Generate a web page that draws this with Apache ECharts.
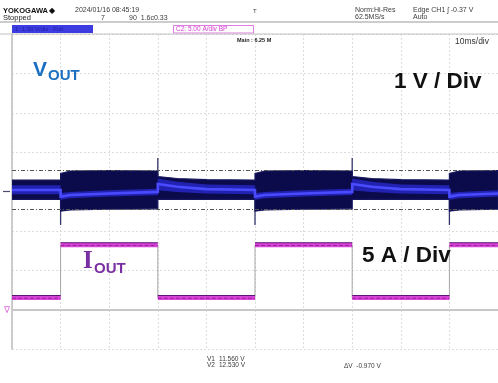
<!DOCTYPE html>
<html>
<head>
<meta charset="utf-8">
<script src="https://cdn.jsdelivr.net/npm/echarts@6/dist/echarts.min.js"></script>
<style>
  html, body { margin: 0; padding: 0; background: #ffffff; }
  #scope { width: 498px; height: 383px; }
</style>
</head>
<body>
<div id="scope"></div>
<script>
// ---- Acquisition data -------------------------------------------------
// Horizontal: 10 ms/div, 10 divisions
const timeRange = [0, 100];
const timePerDiv = 10;

// CH1 (VOUT), 1 V/div, 8 divisions
const voltRange = [8, 16];
const voltPerDiv = 1;

// CH2 (IOUT), 5 A/div, ground one division above the bottom
const ampRange = [-5, 35];
const ampPerDiv = 5;

// Load current: edge times (ms) and level held between edges (A)
const ioutTime  = [0, 10, 30, 50, 70, 90, 100];
const ioutLevel = [1.5, 8.2, 1.5, 8.2, 1.5, 8.2];

// Output voltage: noise envelope, bright core and mean trace (V)
const vTime    = [0, 10, 10, 12, 20, 30, 30, 34, 40, 50, 50, 52, 60, 70, 70, 74, 80, 90, 90, 92, 100];
const vTop     = [12.29, 12.29, 12.46, 12.52, 12.53, 12.52, 12.38, 12.33, 12.30, 12.29, 12.46, 12.52, 12.53, 12.52, 12.38, 12.33, 12.30, 12.29, 12.46, 12.52, 12.53];
const vBottom  = [11.80, 11.80, 11.50, 11.53, 11.55, 11.56, 11.80, 11.80, 11.80, 11.80, 11.50, 11.53, 11.55, 11.56, 11.80, 11.80, 11.80, 11.80, 11.50, 11.53, 11.55];
const vCoreTop = [12.16, 12.16, 11.96, 11.99, 12.03, 12.07, 12.33, 12.25, 12.18, 12.16, 11.96, 11.99, 12.03, 12.07, 12.33, 12.25, 12.18, 12.16, 11.96, 11.99, 12.03];
const vCoreBot = [11.93, 11.93, 11.79, 11.83, 11.87, 11.91, 12.03, 11.99, 11.95, 11.93, 11.79, 11.83, 11.87, 11.91, 12.03, 11.99, 11.95, 11.93, 11.79, 11.83, 11.87];
const vCentre  = [12.04, 12.04, 11.87, 11.91, 11.95, 11.99, 12.19, 12.12, 12.06, 12.04, 11.87, 11.91, 11.95, 11.99, 12.19, 12.12, 12.06, 12.04, 11.87, 11.91, 11.95];

// Transient peaks at each load edge (V)
const spikeTime  = [10, 30, 50, 70, 90];
const spikeValue = [11.15, 12.85, 11.15, 12.85, 11.15];

// Voltage cursors V1, V2 (V)
const cursorV = [11.56, 12.53];

// ---- Rendering --------------------------------------------------------
const SANS = '"Liberation Sans", Arial, "DejaVu Sans", sans-serif';
const SERIF = '"Liberation Serif", "DejaVu Serif", serif';
const chart = echarts.init(document.getElementById('scope'), null, { renderer: 'canvas' });

function renderVout(params, api) {
  const pt = (t, v) => api.coord([t, v]);
  const outer = [], core = [], centre = [];
  for (let i = 0; i < vTime.length; i++) {
    outer.push(pt(vTime[i], vTop[i]));
    core.push(pt(vTime[i], vCoreTop[i]));
    centre.push(pt(vTime[i], vCentre[i]));
  }
  for (let i = vTime.length - 1; i >= 0; i--) {
    outer.push(pt(vTime[i], vBottom[i]));
    core.push(pt(vTime[i], vCoreBot[i]));
  }
  const children = [];
  spikeTime.forEach((t, i) => {
    const a = pt(t, spikeValue[i]);
    const b = pt(t, vCentre[vTime.indexOf(t)]);
    children.push({ type: 'line', shape: { x1: a[0], y1: a[1], x2: b[0], y2: b[1] },
      style: { stroke: '#34346a', lineWidth: 1.3 } });
  });
  children.push(
    { type: 'polygon', shape: { points: outer },
      style: { fill: '#0b0b4c', stroke: '#16165e', lineWidth: 1.2 } },
    { type: 'polygon', shape: { points: core },
      style: { fill: '#2727c4', opacity: 0.85 } },
    { type: 'polyline', shape: { points: centre },
      style: { stroke: '#4a4aff', lineWidth: 2.6, fill: null } }
  );
  return { type: 'group', children };
}

function renderIout(params, api) {
  const children = [];
  for (let i = 1; i < ioutTime.length - 1; i++) {
    const a = api.coord([ioutTime[i], ioutLevel[i - 1]]);
    const b = api.coord([ioutTime[i], ioutLevel[i]]);
    children.push({ type: 'line', shape: { x1: a[0], y1: a[1], x2: b[0], y2: b[1] },
      style: { stroke: '#a6a6a6', lineWidth: 1 } });
  }
  for (let i = 0; i < ioutLevel.length; i++) {
    const a = api.coord([ioutTime[i], ioutLevel[i]]);
    const b = api.coord([ioutTime[i + 1], ioutLevel[i]]);
    children.push(
      { type: 'line', shape: { x1: a[0], y1: a[1], x2: b[0], y2: b[1] },
        style: { stroke: '#d844d8', lineWidth: 4.6 } },
      { type: 'line', shape: { x1: a[0], y1: a[1] - 2.3, x2: b[0], y2: b[1] - 2.3 },
        style: { stroke: '#5a1670', lineWidth: 1 } },
      { type: 'line', shape: { x1: a[0], y1: a[1] + 0.4, x2: b[0], y2: b[1] + 0.4 },
        style: { stroke: '#9c1f9c', lineWidth: 1, lineDash: [4, 2] } }
    );
  }
  return { type: 'group', children };
}

const dotted = { color: '#dddddd', width: 1, type: [2, 2] };

chart.setOption({
  backgroundColor: '#ffffff',
  animation: false,
  grid: { left: 12, right: -7, top: 34, bottom: 34 },
  xAxis: {
    type: 'value', min: timeRange[0], max: timeRange[1], interval: timePerDiv,
    axisLine: { show: true, lineStyle: { color: '#c8c8c8', width: 2 } },
    axisTick: { show: false }, axisLabel: { show: false },
    splitLine: { show: true, lineStyle: dotted }
  },
  yAxis: [
    {
      type: 'value', min: voltRange[0], max: voltRange[1], interval: voltPerDiv,
      axisLine: { show: true, lineStyle: { color: '#bcbcbc', width: 1.5 } },
      axisTick: { show: false }, axisLabel: { show: false },
      splitLine: { show: true, lineStyle: dotted }
    },
    {
      type: 'value', min: ampRange[0], max: ampRange[1], interval: ampPerDiv,
      show: false, splitLine: { show: false }
    }
  ],
  series: [
    {
      name: 'cursors', type: 'line', yAxisIndex: 0, data: [], z: 1,
      markLine: {
        silent: true, symbol: 'none', label: { show: false },
        lineStyle: { color: '#555555', width: 1, type: [4, 2, 1, 2] },
        data: cursorV.map(v => ({ yAxis: v }))
      }
    },
    {
      name: 'VOUT', type: 'custom', yAxisIndex: 0, z: 3, clip: true,
      data: [[vTime[0], vCentre[0]]], renderItem: renderVout
    },
    {
      name: 'IOUT', type: 'custom', yAxisIndex: 1, z: 4, clip: true,
      data: [[ioutTime[0], ioutLevel[0]]], renderItem: renderIout
    }
  ]
});

// Screen annotations
const ch1Y = chart.convertToPixel({ yAxisIndex: 0 }, 12);
const ch2Y = chart.convertToPixel({ yAxisIndex: 1 }, 0);
const hdr = '#3a3a3a';
const txt = (text, x, y, size, opts) => Object.assign({
  type: 'text', z: 10,
  style: Object.assign({ text, x, y, font: size + 'px ' + SANS, fill: hdr, verticalAlign: 'middle' }, opts || {})
});

chart.setOption({
  graphic: [
    txt('YOKOGAWA', 3, 11, 7.5, { font: 'bold 7.5px ' + SANS, fill: '#111' }),
    txt('\u25C6', 49, 11, 8, { fill: '#111' }),
    txt('2024/01/16 08:45:19', 75, 10.5, 7),
    txt('Stopped', 3, 18, 7.5, { fill: '#222' }),
    txt('7', 101, 18, 7),
    txt('90  1.6c0.33', 129, 18, 7),
    txt('T', 253, 11, 6),
    txt('Norm:Hi-Res', 355, 10.5, 7),
    txt('62.5MS/s', 355, 17.5, 7),
    txt('Edge CH1 \u0283 -0.37 V', 413, 10.5, 7),
    txt('Auto', 413, 17.5, 7),
    { type: 'line', z: 10, shape: { x1: 0, y1: 22, x2: 498, y2: 22 }, style: { stroke: '#9a9a9a', lineWidth: 1 } },
    { type: 'rect', z: 10, shape: { x: 12, y: 25, width: 81, height: 8 }, style: { fill: '#3c3ce0' } },
    txt('1: 1.00 V/div   Full', 15, 29, 6, { fill: '#2020a4' }),
    { type: 'rect', z: 10, shape: { x: 173.5, y: 25.5, width: 80, height: 7.5 }, style: { fill: '#ffffff', stroke: '#e07ae0', lineWidth: 1 } },
    txt('C2: 5.00 A/div BP', 176, 29.5, 6.5, { fill: '#d43ad4' }),
    { type: 'line', z: 10, shape: { x1: 0, y1: 34, x2: 498, y2: 34 }, style: { stroke: '#c2c2c2', lineWidth: 1 } },
    txt('Main : 6.25 M', 237, 40, 5.5, { font: 'bold 5.5px ' + SANS, fill: '#222' }),
    txt('10ms/div', 455, 41.5, 8.5, { fill: '#333' }),

    // channel markers
    { type: 'line', z: 10, shape: { x1: 3, y1: ch1Y, x2: 10, y2: ch1Y }, style: { stroke: '#4a4a6a', lineWidth: 1.2 } },
    { type: 'polygon', z: 10, shape: { points: [[4.5, ch2Y - 3], [9.5, ch2Y - 3], [7, ch2Y + 3]] }, style: { fill: 'none', stroke: '#e07ae0', lineWidth: 1 } },

    // trace labels
    txt('V', 33, 70.5, 21, { font: 'bold 21px ' + SANS, fill: '#1b6fc2' }),
    txt('OUT', 48, 75.5, 15, { font: 'bold 15px ' + SANS, fill: '#1b6fc2' }),
    txt('I', 83, 262, 25, { font: 'bold 25px ' + SERIF, fill: '#7a2fa2' }),
    txt('OUT', 94, 268.5, 15, { font: 'bold 15px ' + SANS, fill: '#7a2fa2' }),
    txt('1 V / Div', 394, 82, 22.5, { font: 'bold 22.5px ' + SANS, fill: '#111' }),
    txt('5 A / Div', 362, 255.5, 22.5, { font: 'bold 22.5px ' + SANS, fill: '#111' }),

    // cursor readout
    txt('V1', 207, 359.5, 6.5),
    txt(cursorV[0].toFixed(3) + ' V', 219, 359.5, 6.5),
    txt('V2', 207, 365.5, 6.5),
    txt(cursorV[1].toFixed(3) + ' V', 219, 365.5, 6.5),
    txt('\u0394V  ' + (cursorV[0] - cursorV[1]).toFixed(3) + ' V', 344, 366, 6.5)
  ]
});
</script>
</body>
</html>
